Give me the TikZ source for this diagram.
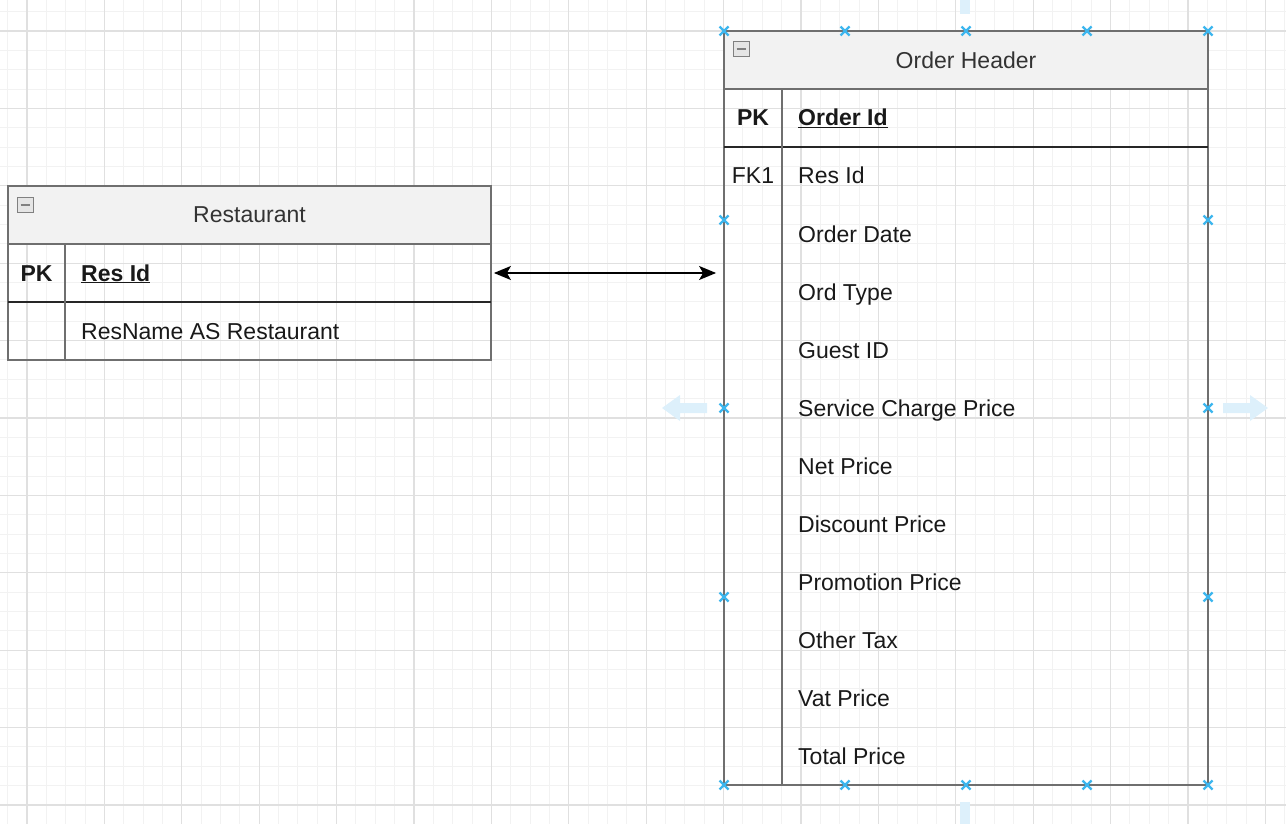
\documentclass[tikz,border=0pt]{standalone}
\usepackage{fontspec}
\setmainfont{Liberation Sans}
\usetikzlibrary{arrows.meta}

\definecolor{gridmajor}{HTML}{E0E0E0}
\definecolor{gridminor}{HTML}{F2F2F2}
\definecolor{hdrfill}{HTML}{F2F2F2}
\definecolor{tblline}{HTML}{6F6F6F}
\definecolor{handleblue}{HTML}{3DB6EE}
\definecolor{hintblue}{HTML}{DDF0FB}

\newcommand{\erfont}{\fontsize{23}{27}\selectfont}

\begin{document}
\begin{tikzpicture}
    [
    x=1pt, y=-1pt,
    tbl/.style={
        rectangle,
        draw=tblline,
        line width=1.8pt,
        inner sep=0pt
    },
    hdr/.style={tbl, fill=hdrfill, minimum height=58pt, font=\erfont, text=black!80},
    tblrule/.style={draw=tblline, line width=1.8pt},
    pkline/.style={draw=black!85, line width=2pt},
    keytxt/.style={anchor=base, inner sep=0pt, font=\erfont\bfseries, text=black!90},
    fieldtxt/.style={anchor=base west, inner sep=0pt, font=\erfont, text=black!90},
    toggle/.style={
        rectangle,
        draw=gray,
        line width=1pt,
        fill=gray!20,
        minimum width=16pt,
        minimum height=15pt,
        inner sep=0pt,
        path picture={\draw[line width=2pt] ([xshift=3.5pt]path picture bounding box.west) -- ([xshift=-3.5pt]path picture bounding box.east);}
    },
    link/.style={<->, >={Stealth[length=17pt, width=14pt, inset=4pt]}, line width=1.6pt},
    handle/.style={draw=handleblue, line width=2.4pt}
    ]

    \useasboundingbox (0,0) rectangle (1286,824);

% Grid
    \begin{scope}
    \clip (0,0) rectangle (1286,824);
    \foreach \i in {0,...,66}
        \draw[gridminor, line width=1pt] ({7.6+19.35*\i},0) -- ++(0,824);
    \foreach \j in {0,...,42}
        \draw[gridminor, line width=1pt] (0,{11.65+19.35*\j}) -- ++(1286,0);
    \foreach \i in {0,...,16}
        \draw[gridmajor, line width=1.2pt] ({26.95+77.4*\i},0) -- ++(0,824);
    \foreach \j in {0,...,10}
        \draw[gridmajor, line width=1.2pt] (0,{31+77.4*\j}) -- ++(1286,0);
    \end{scope}

% Restaurant table
    \node[tbl, minimum width=483pt, minimum height=174pt] (restbox) at (249.5,273) {};
    \node[hdr, minimum width=483pt] (resthdr) at (249.5,215) {Restaurant};
    \node[toggle] (resttog) at (25,205) {};
    \draw[pkline] (8,302) -- (491,302);
    \draw[tblrule] (65,244) -- (65,360);
    \node[keytxt] (restpk) at (36.5,281) {PK};
    \node[fieldtxt] (restid) at (81,281) {\textbf{\underline{Res Id}}};
    \node[fieldtxt] (restname) at (81,339) {ResName AS Restaurant};

% Order Header table
    \node[tbl, minimum width=484pt, minimum height=754pt] (ordbox) at (966,408) {};
    \node[hdr, minimum width=484pt] (ordhdr) at (966,60) {Order Header};
    \node[toggle] (ordtog) at (741,49) {};
    \draw[pkline] (724,147) -- (1208,147);
    \draw[tblrule] (782,89) -- (782,785);
    \node[keytxt] (ordpk) at (753,126) {PK};
    \node[fieldtxt] (ordid) at (798,126) {\textbf{\underline{Order Id}}};
    \node[keytxt, font=\erfont] (ordfk) at (753,184) {FK1};
    \foreach \fld [count=\k] in {Res Id, Order Date, Ord Type, Guest ID, Service Charge Price, Net Price, Discount Price, Promotion Price, Other Tax, Vat Price, Total Price}
        \node[fieldtxt] (ordf\k) at (798,{126+58*\k}) {\fld};

% Relation
    \draw[link, shorten <=2pt, shorten >=7pt] (restbox.east) -- (restbox.east -| ordbox.west);

% Selection hints
    \fill[hintblue] (707,403) -- (680,403) -- (680,395) -- (662,408) -- (680,421) -- (680,413) -- (707,413) -- cycle;
    \fill[hintblue] (1223,403) -- (1250,403) -- (1250,395) -- (1268,408) -- (1250,421) -- (1250,413) -- (1223,413) -- cycle;
    \fill[hintblue] (960,0) rectangle (970,14);
    \fill[hintblue] (960,802) rectangle (970,824);

    \foreach \hx/\hy in {724/31, 845/31, 966/31, 1087/31, 1208/31, 724/785, 845/785, 966/785, 1087/785, 1208/785, 724/220, 724/408, 724/597, 1208/220, 1208/408, 1208/597}
        \draw[handle] ({\hx-4.5},{\hy-4.5}) -- ({\hx+4.5},{\hy+4.5}) ({\hx-4.5},{\hy+4.5}) -- ({\hx+4.5},{\hy-4.5});

\end{tikzpicture}
\end{document}
